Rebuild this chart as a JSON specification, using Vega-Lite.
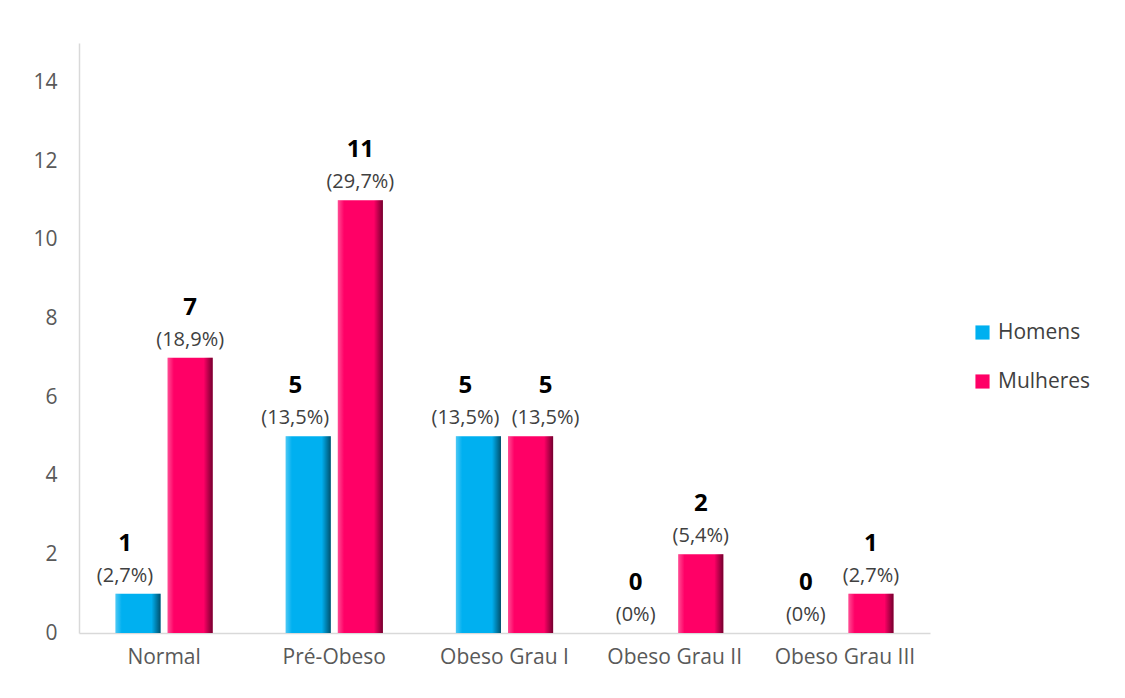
{
  "$schema": "https://vega.github.io/schema/vega-lite/v6.json",
  "autosize": "none",
  "width": 851,
  "height": 590,
  "padding": {"left": 79, "top": 43, "right": 195, "bottom": 65},
  "background": "white",
  "config": {
    "view": {"stroke": null},
    "font": "Open Sans",
    "axis": {"labelFont": "Open Sans", "labelColor": "#595959", "labelFontSize": 21, "domainColor": "#d9d9d9", "domainWidth": 1.5, "ticks": false, "grid": false, "title": null}
  },
  "data": {
    "values": [
      {"cat": "Normal", "sexo": "Homens", "n": 1, "pct": "(2,7%)"},
      {"cat": "Normal", "sexo": "Mulheres", "n": 7, "pct": "(18,9%)"},
      {"cat": "Pré-Obeso", "sexo": "Homens", "n": 5, "pct": "(13,5%)"},
      {"cat": "Pré-Obeso", "sexo": "Mulheres", "n": 11, "pct": "(29,7%)"},
      {"cat": "Obeso Grau I", "sexo": "Homens", "n": 5, "pct": "(13,5%)"},
      {"cat": "Obeso Grau I", "sexo": "Mulheres", "n": 5, "pct": "(13,5%)"},
      {"cat": "Obeso Grau II", "sexo": "Homens", "n": 0, "pct": "(0%)"},
      {"cat": "Obeso Grau II", "sexo": "Mulheres", "n": 2, "pct": "(5,4%)"},
      {"cat": "Obeso Grau III", "sexo": "Homens", "n": 0, "pct": "(0%)"},
      {"cat": "Obeso Grau III", "sexo": "Mulheres", "n": 1, "pct": "(2,7%)"}
    ]
  },
  "encoding": {
    "x": {"field": "cat", "type": "nominal", "sort": null, "scale": {"paddingInner": 0, "paddingOuter": 0}, "axis": {"labelAngle": 0, "labelPadding": 13}},
    "xOffset": {"field": "sexo", "type": "nominal", "scale": {"domain": ["Homens", "Mulheres"], "paddingInner": 0.135, "paddingOuter": 0.7}},
    "y": {"field": "n", "type": "quantitative", "scale": {"domain": [0, 15], "nice": false}, "axis": {"values": [0, 2, 4, 6, 8, 10, 12, 14], "labelPadding": 22, "domain": true}}
  },
  "layer": [
    {
      "mark": {"type": "bar"},
      "encoding": {
        "color": {"field": "sexo", "type": "nominal", "scale": {"domain": ["Homens", "Mulheres"], "range": ["#00B0F0", "#FF0066"]},
          "legend": {"title": null, "orient": "none", "legendX": 893, "legendY": 279, "symbolType": "square", "symbolSize": 200, "symbolStrokeWidth": 0, "labelFontSize": 21, "labelColor": "#404040", "labelFont": "Open Sans", "labelOffset": 5, "rowPadding": 27}}
      }
    },
    {
      "mark": {"type": "bar", "fill": {"gradient": "linear", "x1": 0, "y1": 0, "x2": 1, "y2": 0, "stops": [
        {"offset": 0, "color": "rgba(255,255,255,0.3)"},
        {"offset": 0.14, "color": "rgba(255,255,255,0)"},
        {"offset": 0.8, "color": "rgba(0,0,0,0)"},
        {"offset": 1, "color": "rgba(0,0,0,0.55)"}
      ]}},
      "encoding": {}
    },
    {
      "transform": [{"filter": "datum.sexo === 'Homens'"}],
      "layer": [
        {"mark": {"type": "text", "dy": -18, "dx": -13, "fontSize": 20, "color": "#404040", "font": "Open Sans"}, "encoding": {"text": {"field": "pct"}}},
        {"mark": {"type": "text", "dy": -50, "dx": -13, "fontSize": 24, "fontWeight": "bold", "color": "#000000", "font": "Open Sans"}, "encoding": {"text": {"field": "n", "type": "quantitative"}}}
      ]
    },
    {
      "transform": [{"filter": "datum.sexo === 'Mulheres' && datum.cat !== 'Obeso Grau I'"}],
      "layer": [
        {"mark": {"type": "text", "dy": -18, "fontSize": 20, "color": "#404040", "font": "Open Sans"}, "encoding": {"text": {"field": "pct"}}},
        {"mark": {"type": "text", "dy": -50, "fontSize": 24, "fontWeight": "bold", "color": "#000000", "font": "Open Sans"}, "encoding": {"text": {"field": "n", "type": "quantitative"}}}
      ]
    },
    {
      "transform": [{"filter": "datum.sexo === 'Mulheres' && datum.cat === 'Obeso Grau I'"}],
      "layer": [
        {"mark": {"type": "text", "dy": -18, "dx": 15, "fontSize": 20, "color": "#404040", "font": "Open Sans"}, "encoding": {"text": {"field": "pct"}}},
        {"mark": {"type": "text", "dy": -50, "dx": 15, "fontSize": 24, "fontWeight": "bold", "color": "#000000", "font": "Open Sans"}, "encoding": {"text": {"field": "n", "type": "quantitative"}}}
      ]
    }
  ]
}
